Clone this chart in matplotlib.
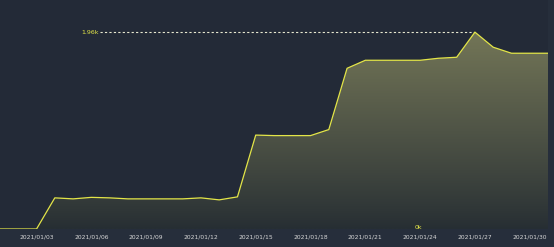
import numpy as np
import pandas as pd
import matplotlib
matplotlib.use("Agg")
import matplotlib.pyplot as plt
import matplotlib.dates as mdates
from matplotlib.patches import Polygon

# 数据
dates = pd.date_range("2021-01-01", "2021-01-31", freq="D")
values = [0, 0, 0, 310, 300, 315, 310, 300, 300, 300, 300, 310, 290, 320,
          935, 930, 930, 930, 990, 1600, 1680, 1680, 1680, 1680, 1700, 1710,
          1960, 1810, 1750, 1750, 1750]
max_label = "1.96k"
min_label = "0k"

bg = "#232a37"
line_c = "#e3e548"

fig = plt.figure(figsize=(5.54, 2.47), dpi=100, facecolor="#262e3b")
ax = fig.add_axes([0, 18 / 247, 548 / 554, 229 / 247])
ax.set_facecolor(bg)

x = mdates.date2num(dates)
y = np.array(values, dtype=float)
ymax = 2280
ax.set_xlim(x[0], x[-1])
ax.set_ylim(0, ymax)

# 渐变填充
grad = np.linspace(0, 1, 256).reshape(-1, 1)
top = np.array([0.45, 0.46, 0.34])
bot = np.array([0.15, 0.18, 0.20])
img = bot + (top - bot) * grad[..., None] ** 0.9
img = img[:, 0, :].reshape(256, 1, 3)
im = ax.imshow(img, extent=[x[0], x[-1], 0, y.max()], origin="lower",
               aspect="auto", zorder=1)
poly = Polygon(np.column_stack([np.r_[x[0], x, x[-1]], np.r_[0, y, 0]]),
               closed=True, transform=ax.transData, facecolor="none", edgecolor="none")
ax.add_patch(poly)
im.set_clip_path(poly)

ax.plot(x, y, color=line_c, lw=0.9, zorder=3)

# 最大值 / 最小值标注
imax = int(np.argmax(y))
imin = int(np.argmin(y))
ax.plot([x[5] + 0.5, x[imax]], [y[imax], y[imax]], ls=(0, (2, 2)), color="#e8e8d0", lw=0.8, zorder=2)
ax.text(x[5] + 0.4, y[imax], max_label, color=line_c, fontsize=4.5, ha="right", va="center")
ax.plot([x[0], x[22] + 0.6], [y[imin], y[imin]], ls=(0, (2, 2)), color="#3d4433", lw=0.8, zorder=2)
ax.text(x[22] + 0.7, y[imin] + 15, min_label, color=line_c, fontsize=4.5, ha="left", va="center")

ax.xaxis.set_major_locator(mdates.DayLocator(bymonthday=[3, 6, 9, 12, 15, 18, 21, 24, 27, 30]))
ax.xaxis.set_major_formatter(mdates.DateFormatter("%Y/%m/%d"))
ax.tick_params(axis="x", colors="#d8d8d8", labelsize=4.3, length=0, pad=4)
ax.set_yticks([])
for s in ax.spines.values():
    s.set_visible(False)

fig.savefig("out.png", dpi=100, facecolor=fig.get_facecolor())
